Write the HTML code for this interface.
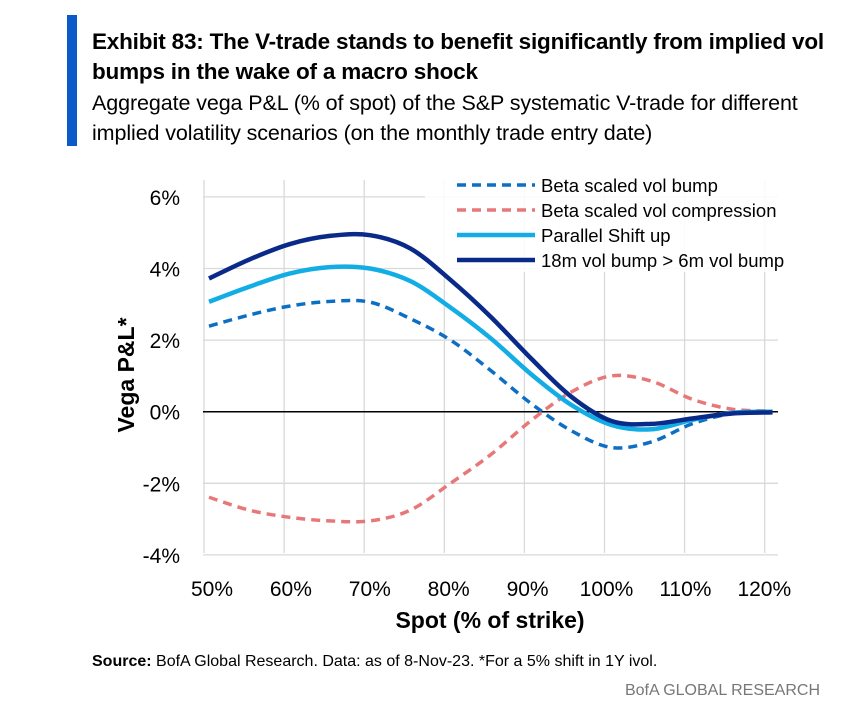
<!DOCTYPE html>
<html><head><meta charset="utf-8"><style>
body{margin:0;width:848px;height:725px;background:#fff;font-family:"Liberation Sans",sans-serif;color:#000;position:relative;overflow:hidden}
.t{position:absolute;white-space:nowrap}
</style></head><body>
<div style="position:absolute;left:67px;top:15px;width:10px;height:131px;background:#0a5ac8"></div>
<div class="t" style="left:92px;top:27px;font-size:22.5px;font-weight:bold;line-height:30px;letter-spacing:-0.2px">Exhibit 83: The V-trade stands to benefit significantly from implied vol<br>bumps in the wake of a macro shock</div>
<div class="t" style="left:92px;top:88px;font-size:21.5px;line-height:30px;letter-spacing:-0.1px">Aggregate vega P&amp;L (% of spot) of the S&amp;P systematic V-trade for different<br>implied volatility scenarios (on the monthly trade entry date)</div>
<svg id="chart" width="848" height="725" style="position:absolute;left:0;top:0" font-family="Liberation Sans, sans-serif"></svg>
<div class="t" style="left:92px;top:653px;font-size:16px"><b>Source:</b> BofA Global Research. Data: as of 8-Nov-23. *For a 5% shift in 1Y ivol.</div>
<div class="t" style="right:28px;top:682px;font-size:16px;color:#777">BofA GLOBAL RESEARCH</div>
<script>
const spots=[50,55,60,65,70,75,80,85,90,95,100,105,110,115,120];
const betaBump=[2.39,2.70,2.95,3.08,3.06,2.6,2.0,1.15,0.23,-0.53,-1.0,-0.84,-0.34,-0.05,0];
const betaComp=[-2.39,-2.75,-2.95,-3.05,-3.05,-2.75,-2.0,-1.2,-0.25,0.55,1.0,0.85,0.35,0.07,0.02];
const parallel=[3.07,3.49,3.86,4.04,4.0,3.65,2.91,2.05,1.05,0.19,-0.37,-0.49,-0.23,-0.03,0];
const vol18m=[3.72,4.25,4.68,4.91,4.93,4.56,3.68,2.65,1.49,0.42,-0.26,-0.34,-0.19,-0.05,-0.02];
const yTicks=[6,4,2,0,-2,-4];
const xTicks=[50,60,70,80,90,100,110,120];
const NS='http://www.w3.org/2000/svg';
const svg=document.getElementById('chart');
const xs=v=>209+(v-50)*8.05;
const ys=v=>411.7-v*35.8;
function mk(t,a){const e=document.createElementNS(NS,t);for(const k in a)e.setAttribute(k,a[k]);svg.appendChild(e);return e;}
for(let i=0;i<=7;i++){const gx=204+i*80.1;const g=mk('line',{x1:gx,x2:gx,y1:180,y2:553,stroke:'#d9d9d9','stroke-width':1.3});

}
yTicks.forEach(v=>{const g=mk('line',{x1:203,x2:778,y1:ys(v),y2:ys(v),stroke:v===0?'#000':'#d9d9d9','stroke-width':v===0?1.5:1.3});


const t=mk('text',{x:180,y:ys(v)+8,'text-anchor':'end','font-size':21,fill:'#000'});t.textContent=v+'%';

});
xTicks.forEach((v,i)=>{const t=mk('text',{x:212+i*78.9,y:596,'text-anchor':'middle','font-size':21,fill:'#000'});t.textContent=v+'%';

});
const lb=mk('rect',{x:425,y:172,width:365,height:100,fill:'#fff',opacity:0.85});


function path(vals){const p=spots.map((s,i)=>[xs(s),ys(vals[i])]);let d='M'+p[0][0]+','+p[0][1];
for(let i=0;i<p.length-1;i++){const p0=p[i-1]||p[i],p1=p[i],p2=p[i+1],p3=p[i+2]||p2;
d+=` C${p1[0]+(p2[0]-p0[0])/6},${p1[1]+(p2[1]-p0[1])/6} ${p2[0]-(p3[0]-p1[0])/6},${p2[1]-(p3[1]-p1[1])/6} ${p2[0]},${p2[1]}`;}return d;}
const series=[
{n:'Beta scaled vol bump',v:betaBump,c:'#0d6fc4',w:3.5,d:'9 6',id:'series-beta-vol-bump'},
{n:'Beta scaled vol compression',v:betaComp,c:'#e87778',w:3.5,d:'9 6',id:'series-beta-vol-compression'},
{n:'Parallel Shift up',v:parallel,c:'#13ade6',w:4.5,d:'',id:'series-parallel-shift-up'},
{n:'18m vol bump > 6m vol bump',v:vol18m,c:'#0a2a8a',w:4.5,d:'',id:'series-18m-vol-bump'}];
series.forEach((s,i)=>{const a={d:path(s.v),fill:'none',stroke:s.c,'stroke-width':s.w,'stroke-linejoin':'round'};if(s.d)a['stroke-dasharray']=s.d;
const p=mk('path',a);


const ly=185+i*25;const la={x1:457,x2:535,y1:ly,y2:ly,stroke:s.c,'stroke-width':s.w};if(s.d)la['stroke-dasharray']=s.d;
const l=mk('line',la);


const t=mk('text',{x:541,y:ly+7,'font-size':18.5,fill:'#000'});t.textContent=s.n;

});
const yt=mk('text',{x:0,y:0,'font-size':23,'font-weight':'bold','text-anchor':'middle',transform:'translate(134,375) rotate(-90)'});yt.textContent='Vega P&L*';


const xt=mk('text',{x:490,y:628,'font-size':23,'font-weight':'bold','text-anchor':'middle'});xt.textContent='Spot (% of strike)';


</script>
</body></html>
